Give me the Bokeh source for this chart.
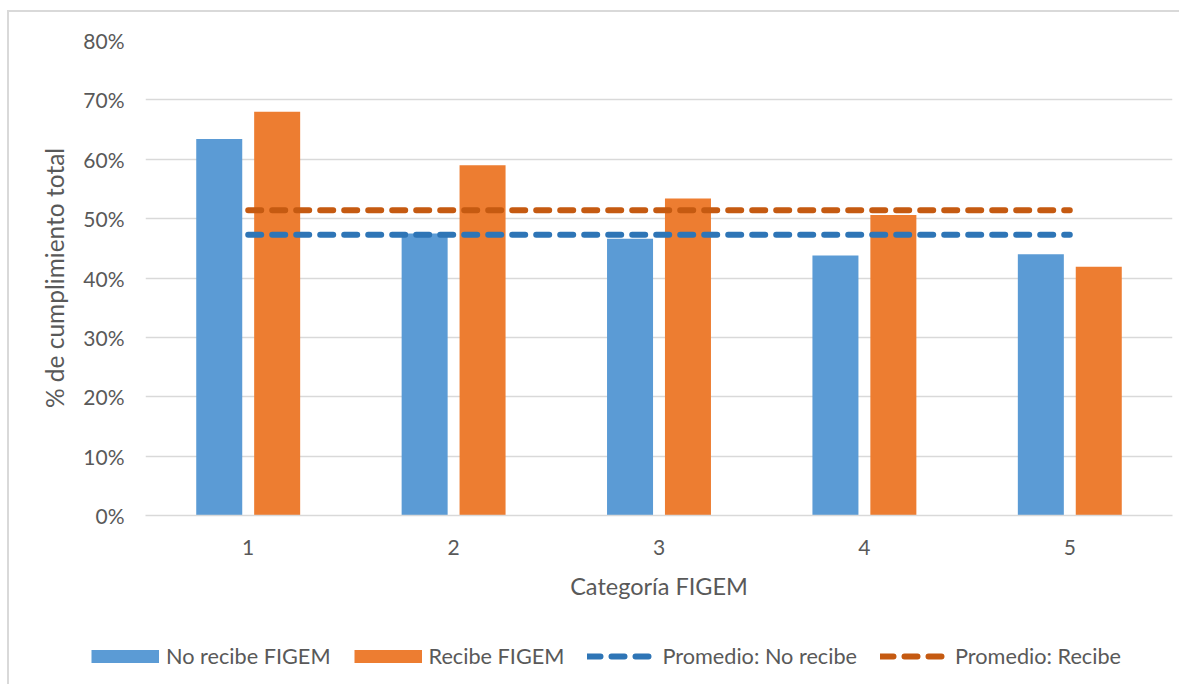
from bokeh.plotting import figure
from bokeh.layouts import column
from bokeh.models import (ColumnDataSource, FixedTicker, NumeralTickFormatter,
                          Legend, LegendItem, Range1d)
from bokeh.transform import dodge
from bokeh.embed import file_html
from bokeh.resources import INLINE

# ---- data ----
categories = [1, 2, 3, 4, 5]
no_recibe = [0.634, 0.475, 0.466, 0.438, 0.440]
recibe = [0.680, 0.590, 0.534, 0.506, 0.419]
promedio_no_recibe = 0.473
promedio_recibe = 0.514
y_ticks = [0.0, 0.1, 0.2, 0.3, 0.4, 0.5, 0.6, 0.7, 0.8]
series_labels = ["No recibe FIGEM", "Recibe FIGEM", "Promedio: No recibe", "Promedio: Recibe"]

FONT = "Lato"
TXT = "#595959"
GRID = "#d9d9d9"
C_NO, C_SI = "#5B9BD5", "#ED7D31"
C_PNO, C_PSI = "#2E75B6", "#C55A11"

src = ColumnDataSource(dict(cat=categories, no=no_recibe, si=recibe))

p = figure(width=1170, height=616, output_backend="svg", toolbar_location=None,
           x_range=Range1d(0.5, 5.5), y_range=Range1d(0, 0.8),
           min_border_left=136, min_border_right=7, min_border_top=28,
           min_border_bottom=113)
p.outline_line_color = None
p.border_fill_color = "white"

bw = 0.224
off = 0.141
p.vbar(x=dodge("cat", -off, range=p.x_range), top="no", width=bw, source=src,
       fill_color=C_NO, line_color=None)
p.vbar(x=dodge("cat", off, range=p.x_range), top="si", width=bw, source=src,
       fill_color=C_SI, line_color=None)

xs = [categories[0], categories[-1]]
p.line(x=xs, y=[promedio_no_recibe] * 2, line_color=C_PNO, line_width=6,
       line_dash="13 11", line_cap="round")
p.line(x=xs, y=[promedio_recibe] * 2, line_color=C_PSI, line_width=6,
       line_dash="13 11", line_cap="round")

# axes
p.xaxis.ticker = FixedTicker(ticks=categories)
p.yaxis.ticker = FixedTicker(ticks=y_ticks)
p.yaxis.formatter = NumeralTickFormatter(format="0%")
for ax in (p.xaxis[0], p.yaxis[0]):
    ax.major_tick_line_color = None
    ax.minor_tick_line_color = None
    ax.major_label_text_font = FONT
    ax.major_label_text_font_size = "21px"
    ax.major_label_text_color = TXT
    ax.axis_label_text_font = FONT
    ax.axis_label_text_font_style = "normal"
    ax.axis_label_text_color = TXT
p.xaxis.axis_label_text_font_size = "23.5px"
p.yaxis.axis_label_text_font_size = "24.5px"
p.xaxis.axis_line_color = GRID
p.xaxis.axis_line_width = 1.5
p.yaxis.axis_line_color = None
p.xaxis.axis_label = "Categoría FIGEM"
p.yaxis.axis_label = "% de cumplimiento total"
p.xaxis.major_label_standoff = 18
p.xaxis.axis_label_standoff = 14
p.yaxis.major_label_standoff = 15
p.yaxis.axis_label_standoff = 11

p.xgrid.grid_line_color = None
p.ygrid.grid_line_color = GRID
p.ygrid.grid_line_width = 1.3

# ---- legend strip (same series styles, drawn off-range: legend only) ----
q = figure(width=1170, height=56, output_backend="svg", toolbar_location=None,
           x_range=Range1d(100, 101), y_range=Range1d(100, 101),
           min_border_left=0, min_border_right=0, min_border_top=0, min_border_bottom=0)
q.axis.visible = False
q.grid.visible = False
q.outline_line_color = None
q.border_fill_color = "white"
# solid swatches for the bar series (thick butt-capped strokes give full-size patches)
g1 = q.line(x="cat", y="no", source=src, line_color=C_NO, line_width=13, line_cap="butt")
g2 = q.line(x="cat", y="si", source=src, line_color=C_SI, line_width=13, line_cap="butt")
g3 = q.line(x=xs, y=[promedio_no_recibe] * 2, line_color=C_PNO, line_width=6,
            line_dash="13 11", line_cap="round")
g4 = q.line(x=xs, y=[promedio_recibe] * 2, line_color=C_PSI, line_width=6,
            line_dash="13 11", line_cap="round")

legend = Legend(items=[LegendItem(label=lab, renderers=[g])
                       for lab, g in zip(series_labels, [g1, g2, g3, g4])],
                orientation="horizontal", location=(82, 15))
legend.glyph_width = 68
legend.glyph_height = 14
legend.label_standoff = 7
legend.spacing = 23
legend.padding = 0
legend.margin = 0
legend.border_line_color = None
legend.background_fill_alpha = 0
legend.label_text_font = FONT
legend.label_text_font_size = "21.7px"
legend.label_text_color = TXT
legend.label_height = 20
q.add_layout(legend, "center")

layout = column(p, column(q), margin=(10, 0, 0, 7),
                styles={"border-left": "2px solid #d9d9d9",
                        "border-top": "2px solid #d9d9d9"})
open("out.html", "w").write(file_html(layout, INLINE))
